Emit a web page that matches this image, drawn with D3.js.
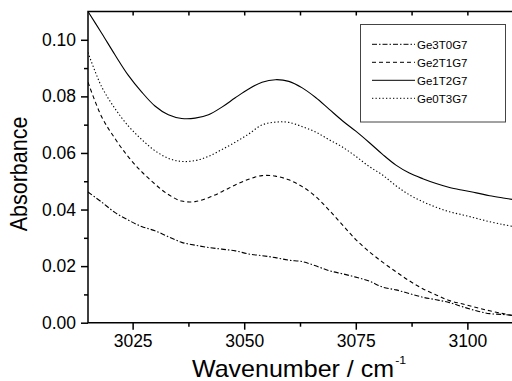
<!DOCTYPE html>
<html>
<head>
<meta charset="utf-8">
<script src="https://cdn.jsdelivr.net/npm/d3@7"></script>
<style>
  body { margin: 0; background: #fff; }
  svg { display: block; font-family: "Liberation Sans", Arial, sans-serif; }
</style>
</head>
<body>
<svg id="chart" width="512" height="381"></svg>
<script>
const wavenumbers = [3015, 3018, 3021, 3024, 3027, 3030, 3033, 3036, 3039, 3042, 3045, 3048, 3051,
  3054, 3057, 3060, 3063, 3066, 3069, 3072, 3075, 3078, 3081, 3084, 3087, 3090, 3093, 3096, 3099,
  3102, 3105, 3108, 3110];

const ge3t0g7 = [0.0462, 0.0427, 0.0390, 0.0363, 0.0340, 0.0325, 0.0304, 0.0284, 0.0274, 0.0266, 0.0260,
  0.0254, 0.0243, 0.0237, 0.0230, 0.0221, 0.0216, 0.0201, 0.0184, 0.0173, 0.0161, 0.0147, 0.0126, 0.0116,
  0.0103, 0.0090, 0.0081, 0.0071, 0.0056, 0.0042, 0.0032, 0.0029, 0.0026];

const ge2t1g7 = [0.0850, 0.0730, 0.0652, 0.0587, 0.0534, 0.0490, 0.0453, 0.0430, 0.0428, 0.0442, 0.0463,
  0.0487, 0.0507, 0.0520, 0.0518, 0.0505, 0.0481, 0.0446, 0.0398, 0.0346, 0.0294, 0.0251, 0.0214, 0.0180,
  0.0148, 0.0120, 0.0098, 0.0078, 0.0066, 0.0054, 0.0042, 0.0032, 0.0026];

const ge1t2g7 = [0.1100, 0.1025, 0.0948, 0.0875, 0.0816, 0.0766, 0.0735, 0.0722, 0.0723, 0.0735, 0.0762,
  0.0795, 0.0826, 0.0850, 0.0859, 0.0853, 0.0830, 0.0796, 0.0755, 0.0714, 0.0677, 0.0637, 0.0595, 0.0557,
  0.0529, 0.0509, 0.0492, 0.0478, 0.0468, 0.0459, 0.0449, 0.0441, 0.0436];

const ge0t3g7 = [0.0955, 0.0836, 0.0758, 0.0696, 0.0648, 0.0608, 0.0581, 0.0570, 0.0573, 0.0588, 0.0612,
  0.0638, 0.0667, 0.0699, 0.0709, 0.0708, 0.0693, 0.0674, 0.0647, 0.0621, 0.0588, 0.0552, 0.0522, 0.0484,
  0.0452, 0.0428, 0.0408, 0.0392, 0.0381, 0.0369, 0.0357, 0.0347, 0.0341];

const seriesNames = ["Ge3T0G7", "Ge2T1G7", "Ge1T2G7", "Ge0T3G7"];
const seriesValues = [ge3t0g7, ge2t1g7, ge1t2g7, ge0t3g7];
const dashes = ["5,2,1.5,2", "4,3", null, "1.3,2.2"];

const xTicks = [3025, 3050, 3075, 3100];
const yTicks = [0, 0.02, 0.04, 0.06, 0.08, 0.10];

const m = { left: 88, right: 512, top: 11.5, bottom: 322.7 };

const svg = d3.select("#chart");

const x = d3.scaleLinear().domain([3015, 3110]).range([m.left, m.right]);
const y = d3.scaleLinear().domain([0, 0.11]).range([m.bottom, m.top]);

svg.append("defs").append("clipPath").attr("id", "clip")
  .append("rect").attr("x", m.left).attr("y", m.top).attr("width", m.right - m.left).attr("height", m.bottom - m.top);

// lines
const line = d3.line().x((d) => x(d[0])).y((d) => y(d[1])).curve(d3.curveCatmullRom.alpha(0.5));

seriesValues.forEach((vals, i) => {
  svg.append("path")
    .attr("clip-path", "url(#clip)")
    .attr("d", line(wavenumbers.map((w, j) => [w, vals[j]])))
    .attr("fill", "none")
    .attr("stroke", "#000")
    .attr("stroke-width", 1.1)
    .attr("stroke-dasharray", dashes[i]);
});

// axes
const allX = d3.range(3025, 3110, 12.5);
const minorX = allX.filter((v) => !xTicks.includes(v));
const minorY = [0.01, 0.03, 0.05, 0.07, 0.09];

function styleAxis(g) {
  g.select(".domain").remove();
  g.selectAll("line").attr("stroke", "#000").attr("stroke-width", 1.5);
  g.selectAll("text").attr("fill", "#000").attr("font-size", 17.5).attr("font-family", "Liberation Sans, Arial, sans-serif");
}

svg.append("g").attr("transform", `translate(0,${m.bottom})`)
  .call(d3.axisBottom(x).tickValues(xTicks).tickFormat(d3.format("d")).tickSize(7).tickPadding(5))
  .call(styleAxis);
svg.append("g").attr("transform", `translate(0,${m.bottom})`)
  .call(d3.axisBottom(x).tickValues(minorX).tickFormat("").tickSize(4))
  .call(styleAxis);
svg.append("g").attr("transform", `translate(0,${m.top})`)
  .call(d3.axisBottom(x).tickValues(allX).tickFormat("").tickSize(4))
  .call(styleAxis);

svg.append("g").attr("transform", `translate(${m.left},0)`)
  .call(d3.axisLeft(y).tickValues(yTicks).tickFormat(d3.format(".2f")).tickSize(7).tickPadding(5))
  .call(styleAxis);
svg.append("g").attr("transform", `translate(${m.left},0)`)
  .call(d3.axisLeft(y).tickValues(minorY).tickFormat("").tickSize(4))
  .call(styleAxis);

// frame lines
svg.append("path")
  .attr("d", `M${m.right},${m.top}H${m.left}V${m.bottom}H${m.right}`)
  .attr("fill", "none").attr("stroke", "#000").attr("stroke-width", 1.5);

// titles (source is slightly stretched horizontally)
svg.append("text")
  .attr("transform", `translate(27,174) scale(1.12,1) rotate(-90)`)
  .attr("text-anchor", "middle")
  .attr("font-size", 21.5)
  .text("Absorbance");

const xt = svg.append("text")
  .attr("transform", "translate(192,376.5) scale(1.07,1)")
  .attr("font-size", 23.4);
xt.append("tspan").text("Wavenumber / cm");
xt.append("tspan").attr("font-size", 11.5).attr("dx", 1).attr("dy", -12.5).text("-1");

// legend
const lg = svg.append("g");
lg.append("rect").attr("x", 360.5).attr("y", 24.5).attr("width", 145).attr("height", 97.5)
  .attr("fill", "#fff").attr("stroke", "#444").attr("stroke-width", 1);
seriesNames.forEach((name, i) => {
  const cy = 44.3 + i * 18;
  lg.append("line").attr("x1", 372).attr("x2", 415).attr("y1", cy).attr("y2", cy)
    .attr("stroke", "#000").attr("stroke-width", 1).attr("stroke-dasharray", dashes[i]);
  lg.append("text").attr("x", 417).attr("y", cy + 4.2).attr("font-size", 11.5).text(name);
});
</script>
</body>
</html>
